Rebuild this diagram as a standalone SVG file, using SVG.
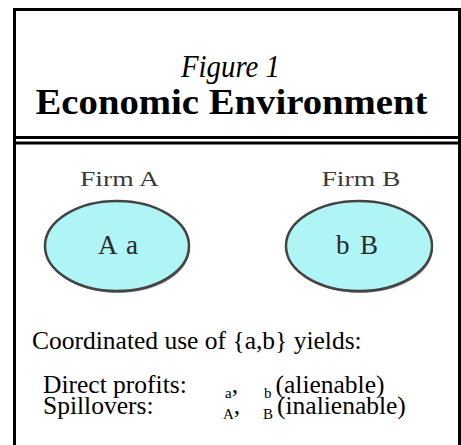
<svg xmlns="http://www.w3.org/2000/svg" width="461" height="445" viewBox="0 0 461 445" font-family="'Liberation Serif', 'DejaVu Serif', serif">
<style>
text{font-family:"Liberation Serif","DejaVu Serif",serif}
.firm{fill:#3a3a3a;font-size:22px}
.inner{fill:#2a2a2a;font-size:27px}
.body{font-size:25.5px}
.sub{font-size:15px}
.node{fill:#b0f5f5;stroke:#444;stroke-width:2.5}
.shadow{fill:#5a5a5a;opacity:0.7}
.rule{stroke:#000;stroke-width:3;fill:none}
</style>
<rect width="461" height="445" fill="#fff"/>
<g id="frame">
<rect class="rule" x="14.5" y="9.5" width="445" height="460"/>
<line class="rule" x1="16" y1="137.5" x2="458" y2="137.5"/>
<line class="rule" x1="16" y1="143" x2="458" y2="143"/>
</g>
<g id="title">
<text x="230.5" y="77" font-size="31" font-style="italic" text-anchor="middle" textLength="99" lengthAdjust="spacingAndGlyphs">Figure 1</text>
<text x="231.5" y="114" font-size="35" font-weight="bold" text-anchor="middle" textLength="392" lengthAdjust="spacingAndGlyphs">Economic Environment</text>
</g>
<g id="connectors"></g>
<g id="firmA">
<text class="firm" x="119.5" y="186" text-anchor="middle" textLength="79" lengthAdjust="spacingAndGlyphs">Firm A</text>
<ellipse class="shadow" cx="118" cy="248" rx="72" ry="45"/>
<ellipse class="node" cx="117" cy="246" rx="72" ry="45"/>
<text class="inner" x="118" y="254" text-anchor="middle" textLength="40" lengthAdjust="spacing">Aa</text>
</g>
<g id="firmB">
<text class="firm" x="361" y="186" text-anchor="middle" textLength="79" lengthAdjust="spacingAndGlyphs">Firm B</text>
<ellipse class="shadow" cx="360" cy="248" rx="73" ry="45"/>
<ellipse class="node" cx="359" cy="246" rx="73" ry="45"/>
<text class="inner" x="357" y="254" text-anchor="middle" textLength="42" lengthAdjust="spacing">bB</text>
</g>
<g id="legend">
<text class="body" x="32" y="349">Coordinated use of {a,b} yields:</text>
<text class="body" x="43" y="393">Direct profits:</text>
<text class="body" x="43" y="414">Spillovers:</text>
<text x="225" y="398"><tspan class="sub">a</tspan><tspan class="body" dy="-5">,</tspan></text>
<text x="264" y="398"><tspan class="sub">b</tspan><tspan class="body" dx="4" dy="-5">(alienable)</tspan></text>
<text x="223" y="419"><tspan class="sub">A</tspan><tspan class="body" dy="-5">,</tspan></text>
<text x="263" y="419"><tspan class="sub">B</tspan><tspan class="body" dx="4" dy="-5">(inalienable)</tspan></text>
</g>
</svg>
